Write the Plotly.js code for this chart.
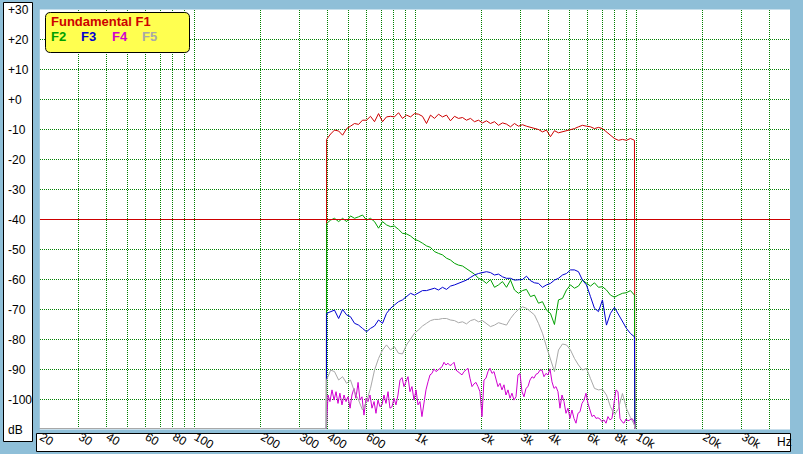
<!DOCTYPE html>
<html><head><meta charset="utf-8">
<script src="https://cdn.plot.ly/plotly-3.0.1.min.js"></script>
<style>html,body{margin:0;padding:0;background:#8fbfd8;overflow:hidden;} #chart{width:803px;height:454px;}</style>
</head><body><div id="chart"></div>
<script>
// ---- data ----
const freqs = [397,414,431,450,469,489,509,531,554,577,602,627,654,682,711,741,773,805,840,875,913,952,992,1034,1078,1124,1172,1222,1274,1328,1385,1443,1505,1569,1636,1705,1778,1853,1932,2014,2100,2189,2283,2380,2481,2587,2697,2811,2931,3056,3186,3321,3462,3610,3763,3923,4090,4264,4446,4635,4832,5038,5252,5476,5708,5951,6205,6469,6744,7031,7330,7642,7967,8306,8659,9027,9412,9812];
// finer frequency grid used for the spiky F4 trace
const freqsF4 = [403,411,420,429,438,447,456,466,476,486,496,507,517,528,539,551,562,574,586,599,611,624,637,651,664,678,692,707,722,737,753,768,785,801,818,835,853,871,889,908,927,946,966,987,1008,1029,1050,1072,1095,1118,1142,1166,1190,1215,1241,1267,1294,1321,1349,1377,1406,1436,1466,1497,1528,1560,1593,1627,1661,1696,1732,1768,1806,1844,1882,1922,1962,2004,2046,2089,2133,2178,2224,2271,2318,2367,2417,2468,2520,2573,2627,2683,2739,2797,2856,2916,2977,3040,3104,3169,3236,3304,3374,3445,3517,3591,3667,3744,3823,3903,3986,4070,4155,4243,4332,4423,4516,4612,4709,4808,4909,5012,5118,5226,5336,5448,5563,5680,5800,5922,6046,6174,6304,6437,6572,6710,6852,6996,7143,7294,7447,7604,7764,7928,8095,8265,8439,8617,8798,8984,9173,9366,9563,9765];
const sweepStartFreq = 20;
const startFreq = 396;
const endFreq = 9850;
const floorDb = -109.67;

const f1 = [-13.3,-11.5,-10.2,-10.5,-11.9,-9.7,-8.9,-8.0,-8.3,-6.9,
-6.9,-5.6,-7.4,-4.7,-7.4,-5.8,-5.6,-5.8,-4.4,-6.3,
-5.2,-5.8,-4.7,-4.9,-5.6,-8.0,-5.2,-6.3,-4.9,-5.8,
-5.2,-7.1,-5.6,-6.3,-6.0,-6.9,-6.3,-7.4,-6.9,-7.8,
-7.1,-8.0,-7.4,-8.6,-7.8,-8.2,-9.1,-8.0,-8.9,-8.4,
-8.9,-9.3,-9.7,-10.0,-10.8,-10.2,-12.4,-10.4,-11.1,-10.8,
-10.4,-10.0,-9.7,-9.1,-8.6,-8.9,-9.1,-9.7,-9.3,-9.7,
-10.8,-11.9,-13.0,-13.6,-13.3,-13.6,-13.0,-13.6];
const f2 = [-41.3,-40.2,-39.6,-40.7,-39.6,-40.7,-38.8,-39.6,-39.1,-38.5,
-40.2,-39.6,-40.7,-42.9,-40.7,-41.8,-42.4,-42.2,-43.3,-44.6,
-44.8,-45.5,-46.6,-47.1,-47.9,-48.8,-49.3,-50.7,-51.3,-51.8,
-52.9,-53.5,-54.6,-55.2,-55.5,-56.3,-57.4,-58.2,-59.6,-60.2,
-61.3,-60.0,-62.6,-61.8,-60.7,-62.6,-60.2,-63.5,-64.6,-63.7,
-63.3,-65.7,-65.2,-67.9,-67.4,-70.2,-71.3,-75.0,-66.8,-66.3,
-63.5,-61.8,-62.9,-62.2,-60.2,-61.3,-62.2,-61.1,-62.6,-62.4,
-63.5,-65.2,-65.9,-65.2,-64.6,-64.4,-63.7,-65.2];
const f3 = [-71.3,-70.7,-70.2,-73.0,-70.0,-71.8,-72.4,-74.6,-75.2,-76.3,
-77.4,-76.3,-75.5,-73.5,-74.6,-71.3,-69.6,-68.5,-67.4,-66.8,
-65.7,-64.6,-65.2,-64.4,-63.7,-63.7,-63.3,-62.9,-63.5,-62.6,
-63.3,-62.2,-61.8,-61.3,-60.7,-60.2,-59.3,-58.5,-58.0,-57.7,
-57.4,-57.7,-58.5,-58.2,-59.1,-59.6,-59.6,-60.2,-60.2,-60.0,
-58.9,-60.4,-61.1,-61.3,-62.6,-61.8,-61.3,-60.2,-59.6,-58.5,
-58.0,-56.8,-56.8,-57.4,-60.2,-61.8,-65.7,-69.6,-70.7,-66.8,
-75.2,-71.3,-69.3,-71.8,-74.0,-76.3,-78.0,-79.1];
const f4 = [-98.5,-100.7,-96.8,-100.2,-97.4,-101.3,-97.9,-101.8,-98.5,-100.7,
-99.1,-102.9,-98.5,-96.3,-99.6,-94.3,-100.2,-99.1,-105.2,-99.6,
-100.7,-98.5,-102.9,-100.7,-104.6,-100.2,-102.4,-101.8,-98.5,-101.3,
-97.4,-102.9,-102.4,-99.6,-101.8,-98.5,-93.5,-92.7,-95.7,-94.1,
-92.4,-97.4,-95.7,-100.2,-96.8,-101.8,-100.7,-105.7,-101.3,-96.8,
-94.1,-91.8,-91.3,-89.8,-90.7,-90.2,-89.6,-89.1,-87.6,-88.5,
-87.9,-88.7,-88.3,-87.6,-90.2,-90.7,-91.3,-91.8,-90.7,-90.2,
-89.6,-92.9,-95.7,-94.8,-94.3,-95.7,-97.4,-105.7,-93.5,-92.9,
-90.7,-89.6,-91.3,-90.7,-93.5,-95.7,-94.6,-96.8,-95.1,-98.5,
-96.8,-99.6,-97.9,-100.2,-99.1,-91.8,-91.3,-97.4,-99.1,-96.3,
-95.7,-93.5,-92.4,-92.9,-91.6,-91.3,-90.2,-90.2,-92.4,-91.3,
-91.8,-89.8,-94.1,-96.3,-95.7,-97.4,-102.9,-98.5,-100.7,-104.6,
-102.9,-106.3,-103.5,-106.3,-107.9,-104.6,-104.1,-101.3,-100.2,-97.9,
-101.3,-103.5,-105.7,-105.2,-106.3,-106.1,-106.5,-107.4,-106.8,-107.9,
-105.7,-106.8,-106.3,-101.3,-96.8,-97.4,-106.3,-107.4,-107.9,-106.5,
-107.1,-106.8,-106.3,-107.4];
const f5 = [-93.5,-90.2,-90.7,-93.5,-92.4,-94.6,-93.5,-97.4,-100.2,-103.5,
-100.7,-96.3,-90.2,-86.3,-83.5,-81.8,-83.5,-82.4,-84.6,-84.8,
-81.8,-79.6,-77.9,-76.8,-75.5,-74.6,-73.7,-73.3,-73.3,-73.0,
-73.0,-73.5,-73.7,-74.4,-74.1,-74.8,-73.7,-73.3,-74.1,-73.7,
-74.8,-75.7,-75.2,-74.4,-74.8,-75.2,-73.0,-71.3,-70.0,-69.1,
-69.6,-70.7,-71.8,-74.6,-77.9,-82.4,-86.8,-90.7,-83.5,-81.5,
-81.8,-83.5,-86.3,-88.5,-90.2,-89.6,-93.0,-96.3,-96.8,-96.6,
-98.5,-102.4,-105.2,-103.0,-98.0,-103.0,-106.0,-108.5];

const seriesNames = ['Fundamental F1','F2','F3','F4','F5'];
const seriesColors = ['#cc0000','#00a000','#0000d0','#d000d0','#a8a8a8'];
const seriesValues = [f1,f2,f3,f4,f5];
const seriesFreqs = [freqs,freqs,freqs,freqsF4,freqs];

const xGridVals = [20,30,40,50,60,70,80,90,100,200,300,400,500,600,700,800,900,1000,2000,3000,4000,5000,6000,7000,8000,9000,10000,20000,30000,40000];
const xGridText = ['20','30','40','','60','','80','','100','200','300','400','','600','','','','1k','2k','3k','4k','','6k','','8k','','10k','20k','30k',''];
const yTickVals = [-110,-100,-90,-80,-70,-60,-50,-40,-30,-20,-10,0,10,20,30];
const yTickText = ['dB','-100','-90','-80','-70','-60','-50','-40','-30','-20','-10','+0','+10','+20','+30'];
const xUnit = 'Hz';
const refLineDb = -40;
const refLineFreqs = [20, 50000];

// ---- layout helpers ----
const W = 803, H = 454;
const px = x => x / W;
const py = y => 1 - y / H;
const font = 'Liberation Sans, Arial, sans-serif';
const yGridVals = yTickVals.filter(v => v !== refLineDb);

const traces = seriesValues.map((vals, i) => ({
  type: 'scatter', mode: 'lines',
  x: [sweepStartFreq, startFreq].concat(seriesFreqs[i], [endFreq]),
  y: [floorDb, floorDb].concat(vals, [floorDb]),
  name: seriesNames[i],
  line: {color: seriesColors[i], width: 1},
  hoverinfo: 'skip', showlegend: false
}));
traces.unshift({
  type: 'scatter', mode: 'lines', x: refLineFreqs, y: [refLineDb, refLineDb], yaxis: 'y2',
  line: {color: '#cc0000', width: 1}, hoverinfo: 'skip', showlegend: false
});

const r = 5, lx0 = 45.5, lx1 = 189.5, ly0 = 12.5, ly1 = 52.5;
const legendPath = `M ${px(lx0+r)} ${py(ly0)} L ${px(lx1-r)} ${py(ly0)} Q ${px(lx1)} ${py(ly0)} ${px(lx1)} ${py(ly0+r)} ` +
  `L ${px(lx1)} ${py(ly1-r)} Q ${px(lx1)} ${py(ly1)} ${px(lx1-r)} ${py(ly1)} L ${px(lx0+r)} ${py(ly1)} ` +
  `Q ${px(lx0)} ${py(ly1)} ${px(lx0)} ${py(ly1-r)} L ${px(lx0)} ${py(ly0+r)} Q ${px(lx0)} ${py(ly0)} ${px(lx0+r)} ${py(ly0)} Z`;

const legendX = [50, 50, 80, 110.5, 140.5];
const legendY = [21.5, 36.5, 36.5, 36.5, 36.5];
const annotations = seriesNames.map((n, i) => ({
  xref: 'paper', yref: 'paper', x: px(legendX[i]), y: py(legendY[i]),
  xanchor: 'left', yanchor: 'middle', showarrow: false, text: n,
  font: {family: font, size: 13, color: seriesColors[i], weight: 'bold'}, borderpad: 0
}));
annotations.push({xref: 'paper', yref: 'paper', x: px(776), y: py(442), xanchor: 'left', yanchor: 'middle',
  showarrow: false, text: xUnit, font: {family: font, size: 12, color: '#000'}, borderpad: 0});

const layout = {
  width: W, height: H,
  margin: {l: 0, r: 0, t: 0, b: 0, pad: 0},
  paper_bgcolor: '#8fbfd8', plot_bgcolor: '#ffffff',
  showlegend: false,
  xaxis: {
    type: 'log', range: [Math.log10(20), 4.6956],
    domain: [px(39.8), px(790)],
    anchor: 'free', position: py(427),
    tickmode: 'array', tickvals: xGridVals, ticktext: xGridText,
    ticks: '', ticklabelposition: 'outside right', ticklabelshift: 2,
    tickfont: {family: font, size: 12, color: '#000'},
    showgrid: true, gridcolor: '#008000', gridwidth: 1, griddash: '1px,1px',
    zeroline: false, showline: false,
    fixedrange: true
  },
  yaxis: {
    range: [-110, 30],
    domain: [py(429.5), py(9.5)],
    tickmode: 'array', tickvals: yGridVals, showticklabels: false,
    ticks: '',
    showgrid: true, gridcolor: '#008000', gridwidth: 1, griddash: '1px,1px',
    zeroline: false, showline: false, fixedrange: true
  },
  yaxis2: {
    range: [-110, 30], overlaying: 'y',
    anchor: 'free', position: px(4), side: 'left',
    tickmode: 'array', tickvals: yTickVals, ticktext: yTickText,
    ticks: '', ticklabelposition: 'inside', ticklabeloverflow: 'allow',
    tickfont: {family: font, size: 12, color: '#000'},
    showgrid: false, zeroline: false, showline: false, fixedrange: true
  },
  shapes: [
    {type: 'rect', xref: 'paper', yref: 'paper', x0: px(3.5), x1: px(32.5), y0: py(441.5), y1: py(2.5),
     fillcolor: '#ffffff', line: {color: '#000', width: 1}, layer: 'below'},
    {type: 'rect', xref: 'paper', yref: 'paper', x0: px(36.5), x1: px(790.5), y0: py(451.5), y1: py(433.5),
     fillcolor: '#ffffff', line: {color: '#000', width: 1}, layer: 'below'},
    {type: 'path', xref: 'paper', yref: 'paper', path: legendPath,
     fillcolor: '#ffff50', line: {color: '#000', width: 1}, layer: 'above'}
  ],
  annotations: annotations
};

Plotly.newPlot('chart', traces, layout, {staticPlot: true, displayModeBar: false});
</script>
</body></html>
